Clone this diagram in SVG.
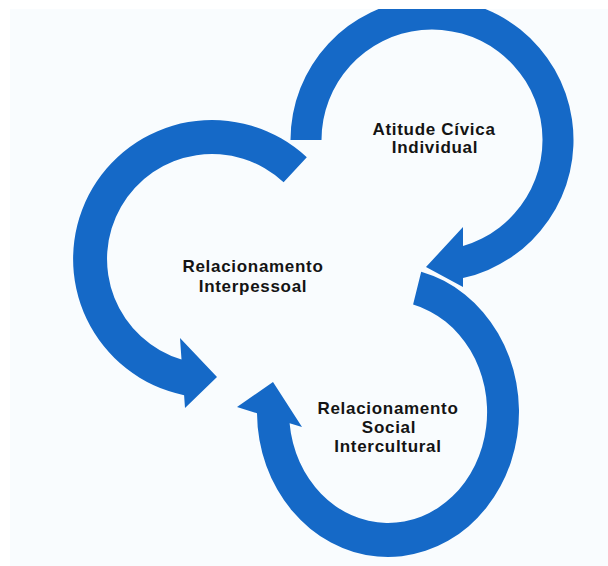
<svg xmlns="http://www.w3.org/2000/svg" width="608" height="566" viewBox="0 0 608 566">
  <defs>
    <style>
      .ring { fill: #1569C7; }
      .label { font-family: "Liberation Sans", Arial, sans-serif; font-weight: bold; font-size: 17px; letter-spacing: 0.7px; fill: #141414; text-anchor: middle; }
    </style>
    <clipPath id="panelClip">
      <rect x="10" y="9" width="598" height="557"/>
    </clipPath>
  </defs>

  <!-- page and panel -->
  <rect x="0" y="0" width="608" height="566" fill="#FFFFFF"/>
  <rect x="10" y="9" width="598" height="557" fill="#F9FCFE"/>

  <!-- circular arrows -->
  <g id="connectors" clip-path="url(#panelClip)">
    <!-- top-right loop, clockwise, head pointing left -->
    <path class="ring" d="M290.5,140 A141.5,141.5 0 1 1 463,278.1 L463,287 L426,267 L463,227 L463,246 A110.5,110.5 0 1 0 321.5,140 Z"/>
    <!-- left loop, counter-clockwise, head pointing right -->
    <path class="ring" d="M306.8,157.3 A139,139 0 1 0 184.1,395.2 L185,408 L217,377 L180,338 L181.5,359.5 A105,105 0 1 1 283.6,182.2 Z"/>
    <!-- bottom loop, clockwise, head pointing up -->
    <path class="ring" d="M421.2,271.7 A131,145 0 1 1 257,413.2 L237,407 L273,382 L302,427 L289.6,423.2 A99,111 0 1 0 413.1,304.6 Z"/>
  </g>

  <g id="atitude-civica">
    <text class="label" x="434" y="135">Atitude Cívica</text>
    <text class="label" x="435" y="153">Individual</text>
  </g>

  <g id="relacionamento-interpessoal">
    <text class="label" x="253" y="272">Relacionamento</text>
    <text class="label" x="253" y="292">Interpessoal</text>
  </g>

  <g id="relacionamento-social">
    <text class="label" x="388" y="414">Relacionamento</text>
    <text class="label" x="389" y="433">Social</text>
    <text class="label" x="388" y="452">Intercultural</text>
  </g>
</svg>
